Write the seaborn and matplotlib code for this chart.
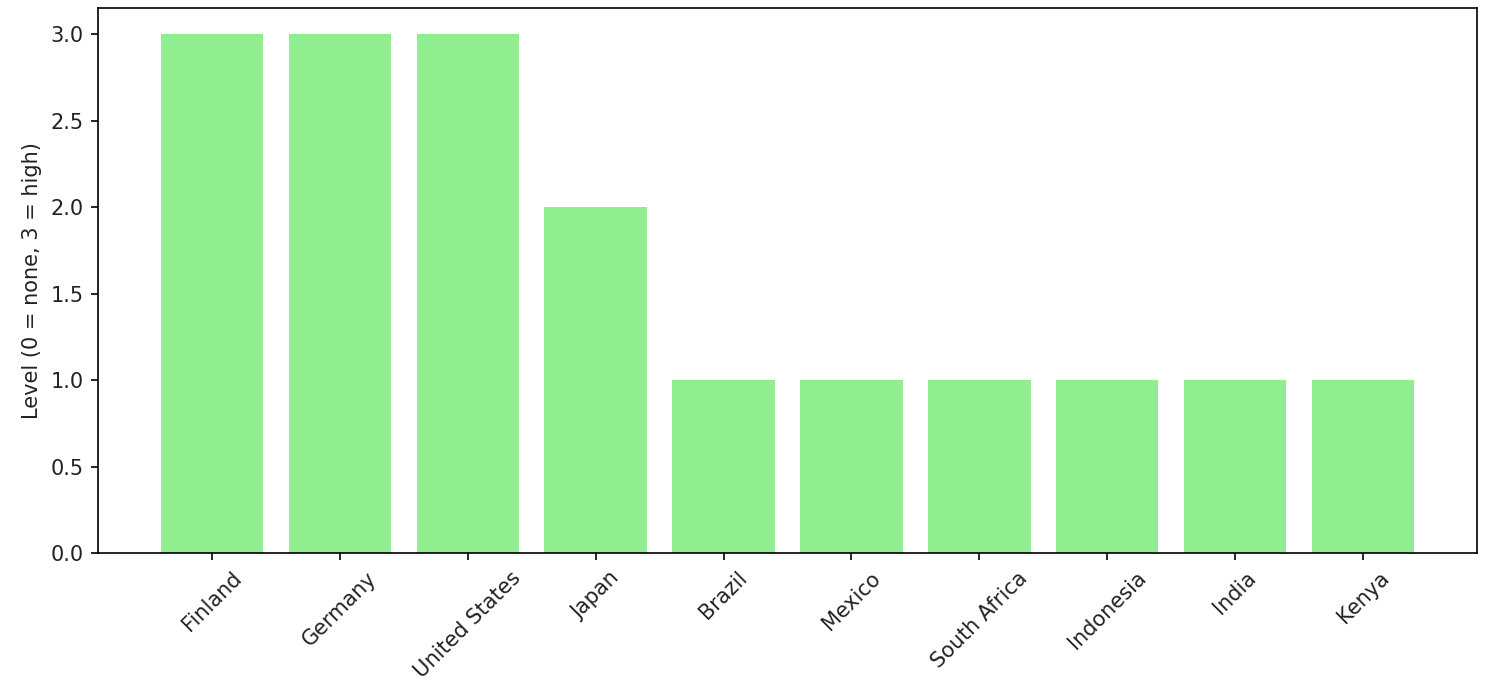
import matplotlib
matplotlib.use("Agg")
import matplotlib.pyplot as plt
import seaborn as sns
import pandas as pd

countries = ["Finland", "Germany", "United States", "Japan", "Brazil",
             "Mexico", "South Africa", "Indonesia", "India", "Kenya"]
levels = [3, 3, 3, 2, 1, 1, 1, 1, 1, 1]

df = pd.DataFrame({"country": countries, "level": levels})

s = 1.5
plt.rcParams.update({
    "font.size": 10 * s,
    "xtick.major.size": 3.5 * s,
    "ytick.major.size": 3.5 * s,
    "xtick.major.width": 0.8 * s,
    "ytick.major.width": 0.8 * s,
    "axes.linewidth": 0.8 * s,
    "xtick.major.pad": 3.5 * s,
    "ytick.major.pad": 3.5 * s,
    "axes.labelpad": 4 * s,
    "text.color": "#222222",
    "xtick.labelcolor": "#222222",
    "ytick.labelcolor": "#222222",
    "axes.labelcolor": "#222222",
})

fig = plt.figure(figsize=(15.01, 6.82), dpi=100)
ax = fig.add_axes([0.0653, 0.189, 0.9187, 0.799])
sns.barplot(data=df, x="country", y="level", color="lightgreen",
            saturation=1, width=0.8, ax=ax)
ax.set_xlim(-0.89, len(countries) - 1 + 0.89)
ax.set_ylim(0, 3.15)
ax.set_xlabel("")
ax.set_ylabel("Level (0 = none, 3 = high)")
plt.setp(ax.get_xticklabels(), rotation=45, ha="center")
fig.savefig("out.png", dpi=100)
